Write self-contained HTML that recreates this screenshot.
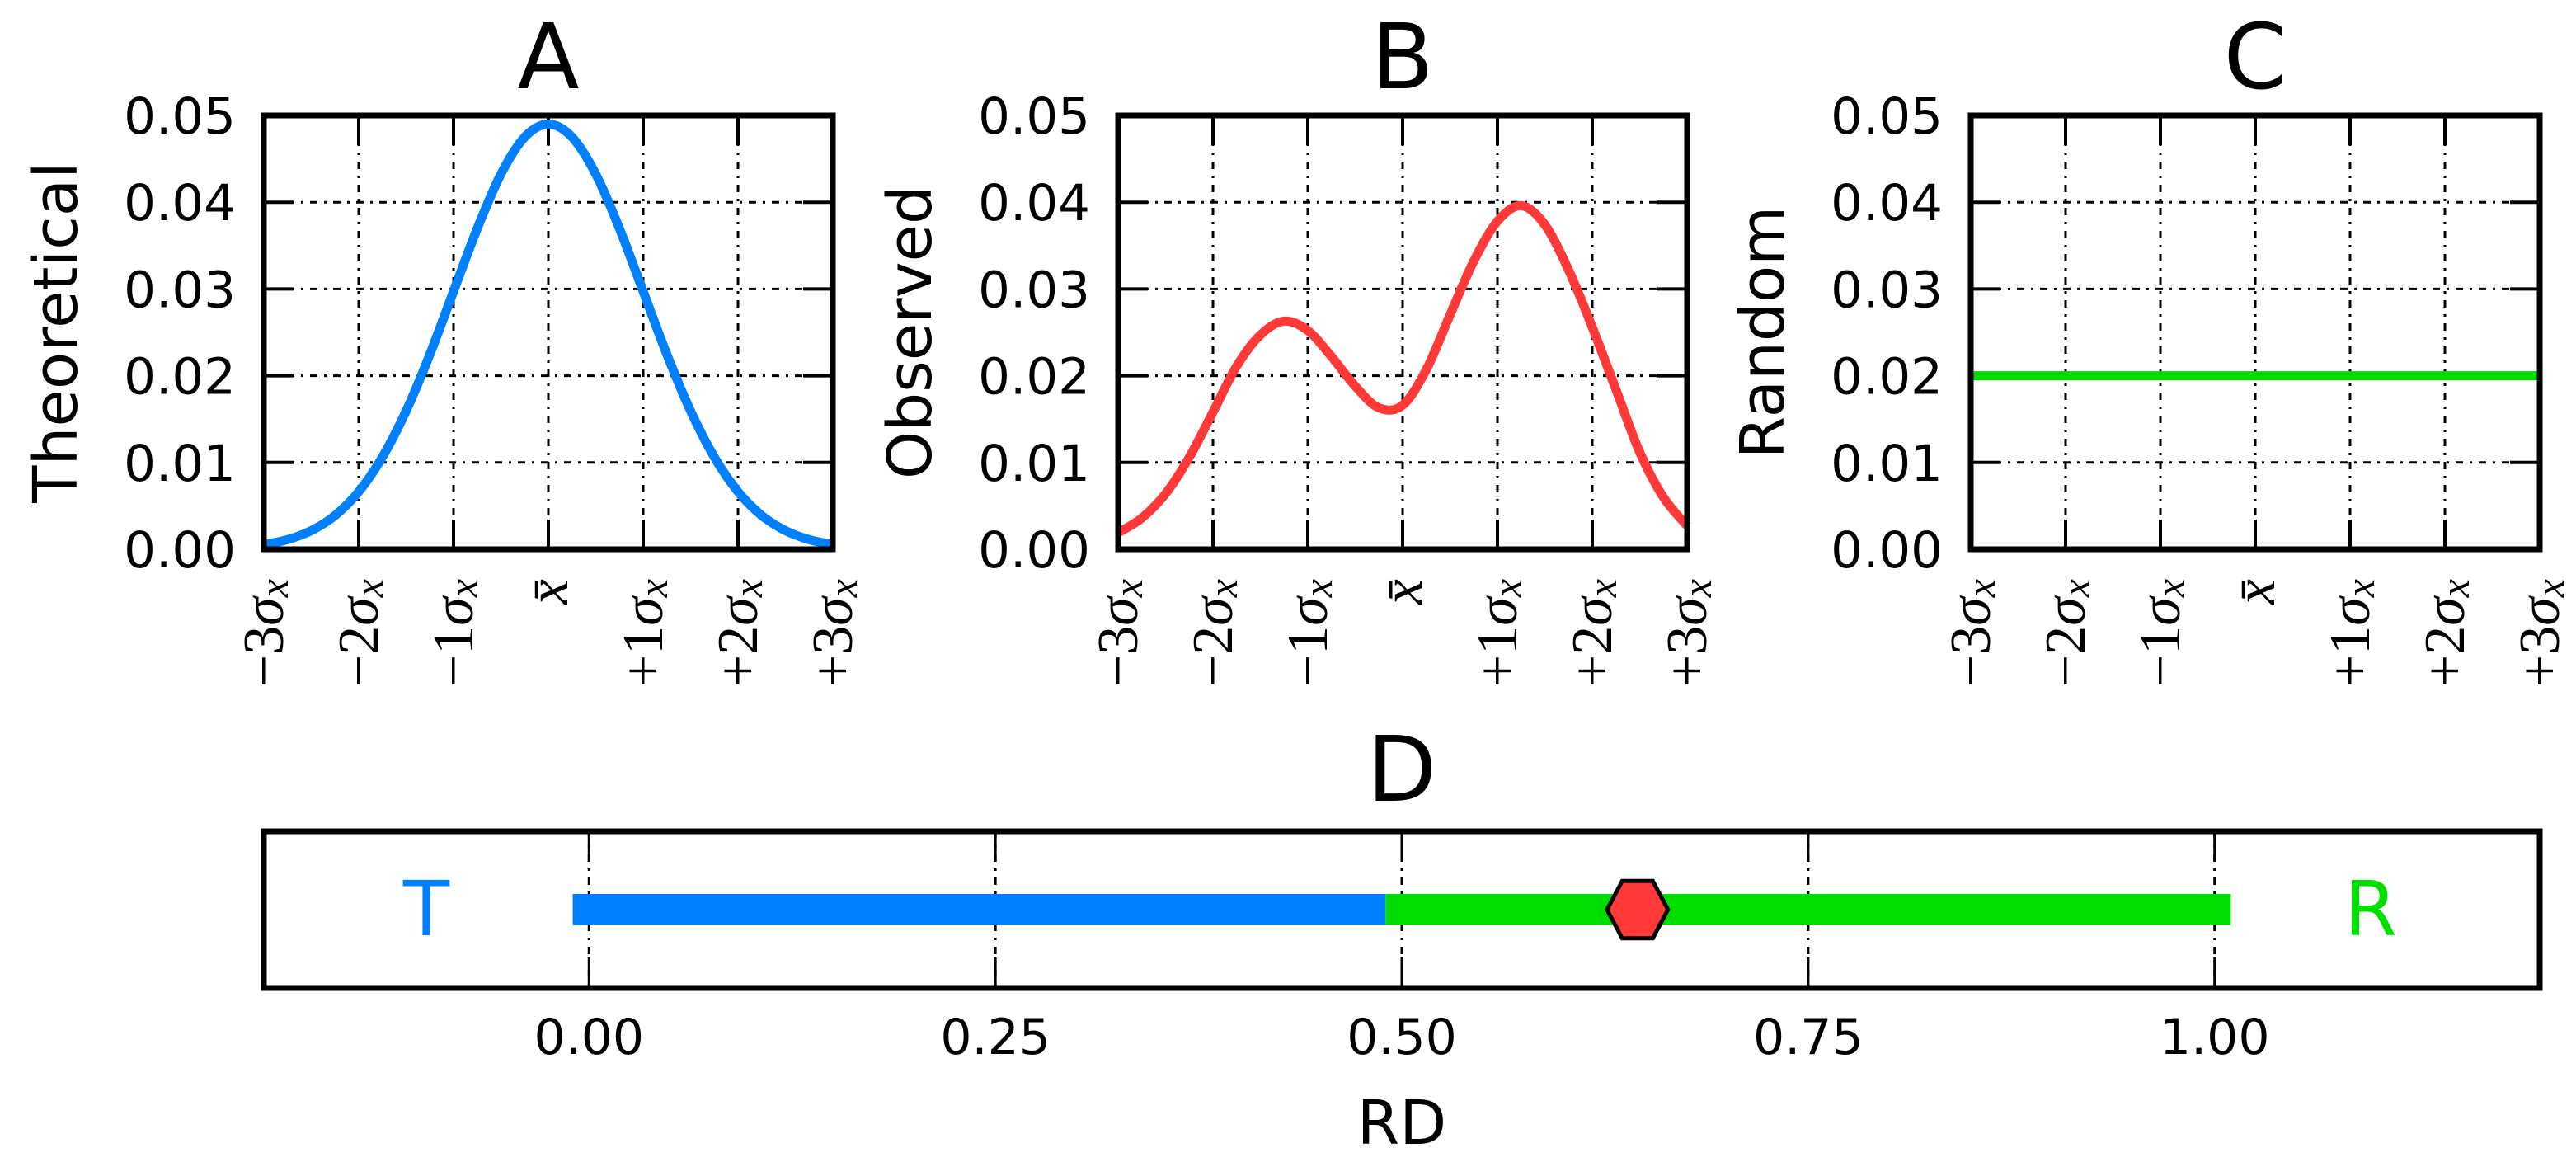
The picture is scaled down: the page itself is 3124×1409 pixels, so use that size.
<!DOCTYPE html>
<html><head><meta charset="utf-8"><style>
html,body{margin:0;padding:0;background:#fff}
svg{display:block}
text{font-family:"DejaVu Sans","Liberation Sans",sans-serif;fill:#000}
.m{font-family:"Liberation Serif","DejaVu Serif",serif}
</style></head><body>
<svg id="fig" width="3124" height="1409" viewBox="0 0 3124 1409" xmlns="http://www.w3.org/2000/svg"></svg>
<script>
// ---- data ----
const xTickValues = [-3,-2,-1,0,1,2,3];
const xTickSigns = ["\u2212","\u2212","\u2212","","+","+","+"];
const xTickNums = ["3","2","1","","1","2","3"];
const yTickValues = [0,0.01,0.02,0.03,0.04,0.05];
const yTickLabels = ["0.00","0.01","0.02","0.03","0.04","0.05"];
const theoX = [-3,-2.75,-2.5,-2.25,-2,-1.75,-1.5,-1.25,-1,-0.75,-0.5,-0.25,0,0.25,0.5,0.75,1,1.25,1.5,1.75,2,2.25,2.5,2.75,3];
const theoY = [0.00054,0.00111,0.00215,0.00389,0.00663,0.01063,0.01594,0.02245,0.02972,0.03696,0.04324,0.0475,0.049,0.0475,0.04324,0.03696,0.02972,0.02245,0.01594,0.01063,0.00663,0.00389,0.00215,0.00111,0.00054];
const obsX = [-3,-2.75,-2.5,-2.25,-2,-1.75,-1.5,-1.25,-1,-0.75,-0.5,-0.25,0,0.25,0.5,0.75,1,1.25,1.5,1.75,2,2.25,2.5,2.75,3];
const obsY = [0.0019,0.0036,0.0064,0.0106,0.0158,0.0211,0.0247,0.0263,0.0252,0.0222,0.0188,0.0163,0.0166,0.0207,0.0270,0.0332,0.0378,0.0396,0.0374,0.0322,0.0256,0.0184,0.0112,0.0060,0.0027];
const randX = [-3,3];
const randY = [0.02,0.02];
const dTickValues = [0,0.25,0.5,0.75,1];
const dTickLabels = ["0.00","0.25","0.50","0.75","1.00"];
const barTheoretical = [-0.01,0.49];
const barRandom = [0.49,1.01];
const rdValue = [0.645];

const NS="http://www.w3.org/2000/svg";
const svg=document.getElementById('fig');
function mk(tag,attrs,parent){const e=document.createElementNS(NS,tag);for(const k in attrs)e.setAttribute(k,attrs[k]);(parent||svg).appendChild(e);return e;}
function smooth(pts){let d=`M${pts[0][0]},${pts[0][1]}`;for(let i=0;i<pts.length-1;i++){const p0=pts[Math.max(0,i-1)],p1=pts[i],p2=pts[i+1],p3=pts[Math.min(pts.length-1,i+2)];
const c1=[p1[0]+(p2[0]-p0[0])/6,p1[1]+(p2[1]-p0[1])/6],c2=[p2[0]-(p3[0]-p1[0])/6,p2[1]-(p3[1]-p1[1])/6];d+=` C${c1[0]},${c1[1]} ${c2[0]},${c2[1]} ${p2[0]},${p2[1]}`;}return d;}

const panels=[
 {L:320,title:"A",ylabel:"Theoretical",xs:theoX,ys:theoY,color:"#0080ff",key:"theoretical"},
 {L:1356,title:"B",ylabel:"Observed",xs:obsX,ys:obsY,color:"#ff3838",key:"observed"},
 {L:2390,title:"C",ylabel:"Random",xs:randX,ys:randY,color:"#00dd00",key:"random"}];
const W=690,T=140,B=666;
panels.forEach(p=>{
 const g=mk('g',{});
 
 
 const sx=v=>p.L+(v+3)/6*W, sy=v=>B-v/0.05*(B-T);
 xTickValues.forEach(v=>{const l=mk('line',{x1:sx(v),x2:sx(v),y1:T,y2:B,stroke:'#000','stroke-width':3,'stroke-dasharray':'9,8,3,8'},g);
  });
 yTickValues.forEach(v=>{const l=mk('line',{x1:p.L,x2:p.L+W,y1:sy(v),y2:sy(v),stroke:'#000','stroke-width':3,'stroke-dasharray':'9,8,3,8'},g);
  });
 xTickValues.forEach(v=>{mk('line',{x1:sx(v),x2:sx(v),y1:B,y2:B-36,stroke:'#000','stroke-width':4},g);mk('line',{x1:sx(v),x2:sx(v),y1:T,y2:T+36,stroke:'#000','stroke-width':4},g);});
 yTickValues.forEach(v=>{mk('line',{x1:p.L,x2:p.L+36,y1:sy(v),y2:sy(v),stroke:'#000','stroke-width':4},g);mk('line',{x1:p.L+W,x2:p.L+W-36,y1:sy(v),y2:sy(v),stroke:'#000','stroke-width':4},g);});
 const pts=p.xs.map((x,i)=>[sx(x),sy(p.ys[i])]);
 const c=mk('path',{d:smooth(pts),fill:'none',stroke:p.color,'stroke-width':11,'stroke-linejoin':'round'},g);
 
 const f=mk('rect',{x:p.L,y:T,width:W,height:B-T,fill:'none',stroke:'#000','stroke-width':7},g);
 
 yTickValues.forEach((v,i)=>{const t=mk('text',{x:p.L-34,y:sy(v)+22,'font-size':61,'text-anchor':'end'},g);t.textContent=yTickLabels[i];
  });
 xTickValues.forEach((v,i)=>{const t=mk('text',{x:0,y:0,'font-size':70,'text-anchor':'end','dominant-baseline':'central',class:'m',transform:`translate(${sx(v)},702) rotate(-90)`},g);
  if(i===3){const a=mk('tspan',{'font-style':'italic'},t);a.textContent='x\u0304';}
  else{const s0=mk('tspan',{},t);s0.textContent=xTickSigns[i]+xTickNums[i];const a=mk('tspan',{'font-style':'italic'},t);a.textContent='\u03c3';const s=mk('tspan',{'font-size':50,'font-style':'italic',dy:12},t);s.textContent='x';}
  });
 const ti=mk('text',{x:p.L+W/2,y:107,'font-size':110,'text-anchor':'middle'},g);ti.textContent=p.title;
 
 const yl=mk('text',{x:0,y:0,'font-size':74,'text-anchor':'middle','dominant-baseline':'central',transform:`translate(${p.L-252},${(T+B)/2}) rotate(-90)`},g);yl.textContent=p.ylabel;
 
});

// ---- panel D ----
const gD=mk('g',{});


const DL=320,DR=3080,DT=1008,DB=1198,CY=1103;
const dx=v=>DL+(v+0.2)/1.4*(DR-DL);
dTickValues.forEach((v,i)=>{
 const l=mk('line',{x1:dx(v),x2:dx(v),y1:DT,y2:DB,stroke:'#000','stroke-width':3,'stroke-dasharray':'9,8,3,8'},gD);
 
 mk('line',{x1:dx(v),x2:dx(v),y1:DT,y2:DT+37,stroke:'#000','stroke-width':3},gD);
 mk('line',{x1:dx(v),x2:dx(v),y1:DB,y2:DB-37,stroke:'#000','stroke-width':3},gD);
 const t=mk('text',{x:dx(v),y:1278,'font-size':60,'text-anchor':'middle'},gD);t.textContent=dTickLabels[i];
 
});
const b1=mk('rect',{x:dx(barTheoretical[0]),y:CY-19,width:dx(barTheoretical[1])-dx(barTheoretical[0]),height:38,fill:'#0080ff'},gD);

const b2=mk('rect',{x:dx(barRandom[0]),y:CY-19,width:dx(barRandom[1])-dx(barRandom[0]),height:38,fill:'#00dd00'},gD);

const hx=dx(rdValue[0]),r=37;
const hp=[[hx-r,CY],[hx-r/2,CY-r*0.94],[hx+r/2,CY-r*0.94],[hx+r,CY],[hx+r/2,CY+r*0.94],[hx-r/2,CY+r*0.94]].map(q=>q.join(',')).join(' ');
const hex=mk('polygon',{points:hp,fill:'#ff3838',stroke:'#000','stroke-width':5},gD);

const fr=mk('rect',{x:DL,y:DT,width:DR-DL,height:DB-DT,fill:'none',stroke:'#000','stroke-width':7},gD);

const tT=mk('text',{x:517,y:1134,'font-size':92,'text-anchor':'middle',style:'fill:#0080ff'},gD);tT.textContent='T';

const tR=mk('text',{x:2875,y:1134,'font-size':92,'text-anchor':'middle',style:'fill:#00dd00'},gD);tR.textContent='R';

const tD=mk('text',{x:1700,y:971,'font-size':110,'text-anchor':'middle'},gD);tD.textContent='D';

const tRD=mk('text',{x:1700,y:1387,'font-size':74,'text-anchor':'middle'},gD);tRD.textContent='RD';

</script>
</body></html>
